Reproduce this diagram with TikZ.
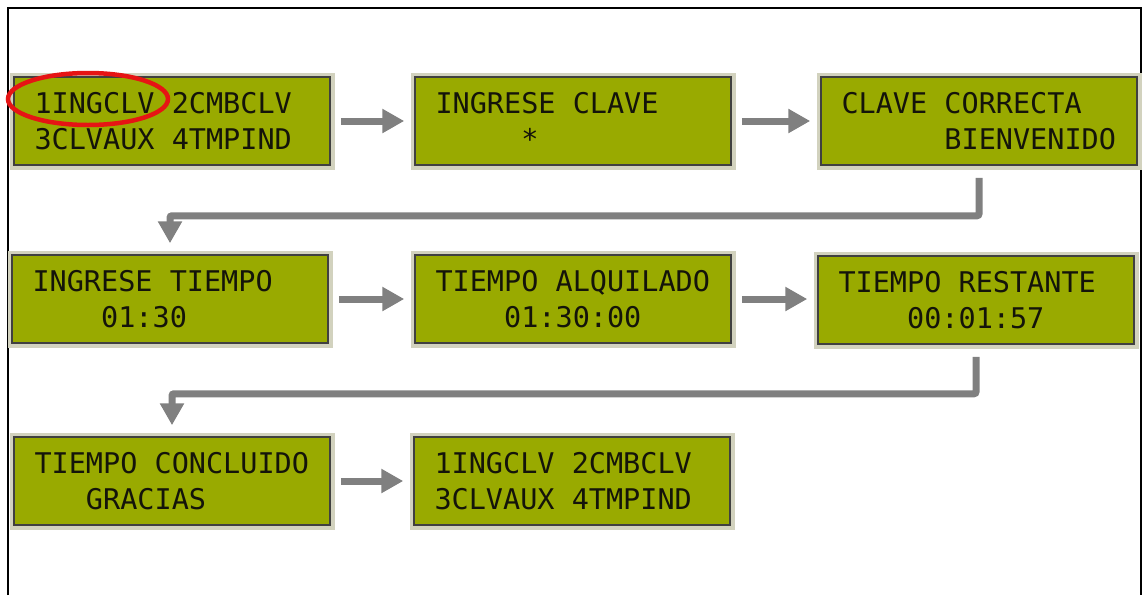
\documentclass[tikz,border=0pt]{standalone}
\usepackage{fontspec}
\usepackage{tikz}
\usetikzlibrary{positioning,arrows.meta,calc}
\newfontfamily\lcdfont{DejaVu Sans Mono}
\definecolor{lcdgreen}{RGB}{153,170,0}
\definecolor{lcdframe}{RGB}{210,210,190}
\definecolor{lcdink}{RGB}{20,20,10}
\definecolor{flowgray}{RGB}{128,128,128}
\definecolor{ringred}{RGB}{230,20,20}
\newcommand{\pad}[1]{\hphantom{#1}}
\newcommand{\cell}{\hphantom{0}}
\tikzset{
  lcd/.style={rectangle, draw=black!75, line width=1.5pt, fill=lcdgreen,
              minimum width=316pt, minimum height=88pt, inner sep=0pt,
              text width=275pt, align=left, text=lcdink,
              font=\lcdfont\fontsize{28.5}{36}\selectfont,
              preaction={draw=lcdframe, line width=9pt}},
  flow/.style={-{Triangle[width=23pt,length=22pt]}, line width=7pt, flowgray,
               shorten <=10pt, shorten >=10pt},
  turnflow/.style={flow, rounded corners=2pt, shorten <=12pt, shorten >=11pt},
  pickring/.style={draw=ringred, line width=4.5pt},
  frameline/.style={line width=2pt, black}
}
\begin{document}
\begin{tikzpicture}[x=1pt,y=-1pt]
\useasboundingbox (0,0) rectangle (1143,595);
\draw[frameline] (8,595) -- (8,8) -- (1141,8) -- (1141,595);
% first row
\node[lcd] (b1) at (172,121) {1INGCLV\cell 2CMBCLV\\3CLVAUX\cell 4TMPIND};
\node[lcd] (b2) at (573,121) {INGRESE\cell CLAVE\\\pad{00000}*};
\node[lcd] (b3) at (979,121) {CLAVE\cell CORRECTA\\\pad{000000}BIENVENIDO};
% second row
\node[lcd] (b4) at (170,299) {INGRESE\cell TIEMPO\\\pad{0000}01:30};
\node[lcd] (b5) at (573,299) {TIEMPO\cell ALQUILADO\\\pad{0000}01:30:00};
\node[lcd] (b6) at (976,300) {TIEMPO\cell RESTANTE\\\pad{0000}00:01:57};
% third row
\node[lcd] (b7) at (172,481) {TIEMPO\cell CONCLUIDO\\\pad{000}GRACIAS};
\node[lcd] (b8) at (572,481) {1INGCLV\cell 2CMBCLV\\3CLVAUX\cell 4TMPIND};
\draw[pickring] (88,99) ellipse [x radius=80, y radius=26];
\draw[flow] (b1.east) -- (b2.west);
\draw[flow] (b2.east) -- (b3.west);
\draw[turnflow] (b3.south) -- ++(0,50) -| (b4.north);
\draw[flow] (b4.east) -- (b5.west);
\draw[flow] (b5.east) -- (b5.east -| b6.west);
\draw[turnflow] (b6.south) -- ++(0,49) -| (b7.north);
\draw[flow] (b7.east) -- (b8.west);
\end{tikzpicture}
\end{document}
